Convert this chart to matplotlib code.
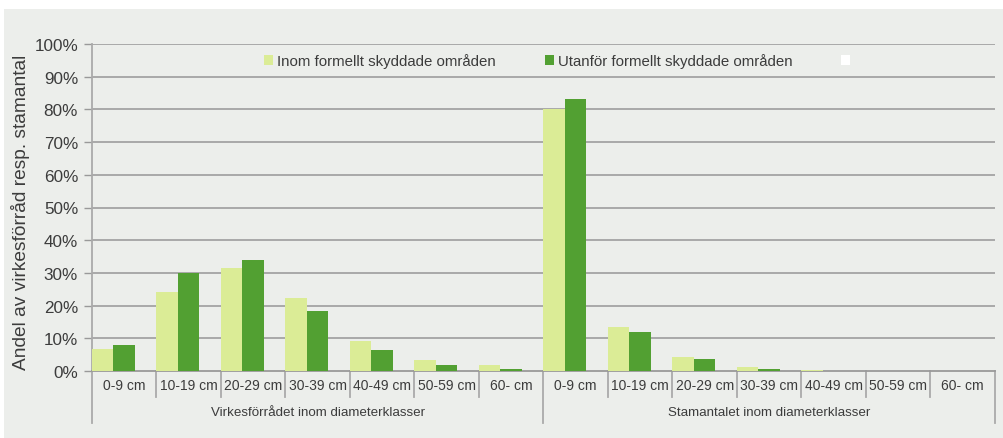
import matplotlib
matplotlib.use("Agg")
import matplotlib.pyplot as plt
from matplotlib.patches import Rectangle, Patch
from matplotlib.lines import Line2D
import matplotlib.transforms as mtransforms

plt.rcParams['font.family'] = ['Liberation Sans', 'DejaVu Sans']

categories = ['0-9 cm', '10-19 cm', '20-29 cm', '30-39 cm', '40-49 cm', '50-59 cm', '60- cm']
groups = ['Virkesförrådet inom diameterklasser', 'Stamantalet inom diameterklasser']
series_labels = ['Inom formellt skyddade områden', 'Utanför formellt skyddade områden']

inom_virke = [6.8, 24.3, 31.5, 22.4, 9.2, 3.3, 1.9]
utanfor_virke = [8.0, 30.0, 34.0, 18.4, 6.5, 1.7, 0.7]
inom_stam = [80.0, 13.6, 4.4, 1.3, 0.2, 0.05, 0.02]
utanfor_stam = [83.2, 12.0, 3.6, 0.7, 0.1, 0.03, 0.01]

yticks = list(range(0, 101, 10))
ylabel = 'Andel av virkesförråd resp. stamantal'

light = '#dbec96'
dark = '#52a032'
bg = '#eceeeb'
txt = '#3c3c3c'
grid_c = '#a3a3a3'

W, H = 1004, 439
fig = plt.figure(figsize=(W / 100, H / 100), dpi=100, facecolor='white')
fig.patches.append(Rectangle((4 / W, 0), 1 - 4 / W, (H - 10) / H, transform=fig.transFigure,
                             facecolor=bg, edgecolor='none', zorder=-10))

ax_l, ax_r, ax_t, ax_b = 92, 995, 45, 372
ax = fig.add_axes([ax_l / W, (H - ax_b) / H, (ax_r - ax_l) / W, (ax_b - ax_t) / H])
ax.set_facecolor('none')

inom = inom_virke + inom_stam
utanfor = utanfor_virke + utanfor_stam
n = len(inom)
xs = list(range(n))
bw = 1 / 3
ax.bar([x for x in xs], inom, width=bw, align='edge', color=light, edgecolor='none', zorder=3)
ax.bar([x + bw for x in xs], utanfor, width=bw, align='edge', color=dark, edgecolor='none', zorder=3)

ax.set_xlim(0, n)
ax.set_ylim(0, 100)
ax.set_yticks(yticks)
ax.set_yticklabels([f'{v}%' for v in yticks], fontsize=12.3, color=txt)
ax.tick_params(axis='y', length=6, width=1, color='#999999', pad=4)
ax.set_xticks([])
for v in yticks[1:]:
    ax.axhline(v, color=grid_c, lw=1.3, zorder=1)
for s in ['top', 'right']:
    ax.spines[s].set_visible(False)
ax.spines['left'].set_color('#aaaaaa')
ax.spines['left'].set_linewidth(1.3)
ax.spines['bottom'].set_color('#999999')
ax.spines['bottom'].set_linewidth(1.3)

axh = ax_b - ax_t
trans = mtransforms.blended_transform_factory(ax.transData, ax.transAxes)
for i in range(n + 1):
    y1 = -52 / axh if i % 7 == 0 else -26 / axh
    ax.add_line(Line2D([i, i], [0, y1], transform=trans, color='#aaaaaa', lw=1.3, clip_on=False))
ncat = len(categories)
for gi, g in enumerate(groups):
    for ci, c in enumerate(categories):
        ax.text(gi * ncat + ci + 0.5, -14 / axh, c, transform=trans, ha='center', va='center',
                fontsize=10, color=txt)
    ax.text(gi * ncat + ncat / 2, -41 / axh, g, transform=trans, ha='center', va='center',
            fontsize=9.6, color=txt)

fig.text(21 / W, (H - 212) / H, ylabel, rotation=90, ha='center', va='center', fontsize=13.8, color=txt)

handles = [Patch(facecolor=light, edgecolor='none'), Patch(facecolor=dark, edgecolor='none'),
           Patch(facecolor='white', edgecolor='none')]
leg = ax.legend(handles, series_labels + [''], ncol=3, loc='center left',
                bbox_to_anchor=((264 - ax_l) / (ax_r - ax_l), (ax_b - 62) / axh),
                borderaxespad=0, borderpad=0,
                frameon=False, fontsize=10.8, handlelength=0.6, handleheight=0.6, handletextpad=0.27,
                columnspacing=3.25, labelcolor=txt)

fig.savefig('out.png', dpi=100, facecolor='white')
